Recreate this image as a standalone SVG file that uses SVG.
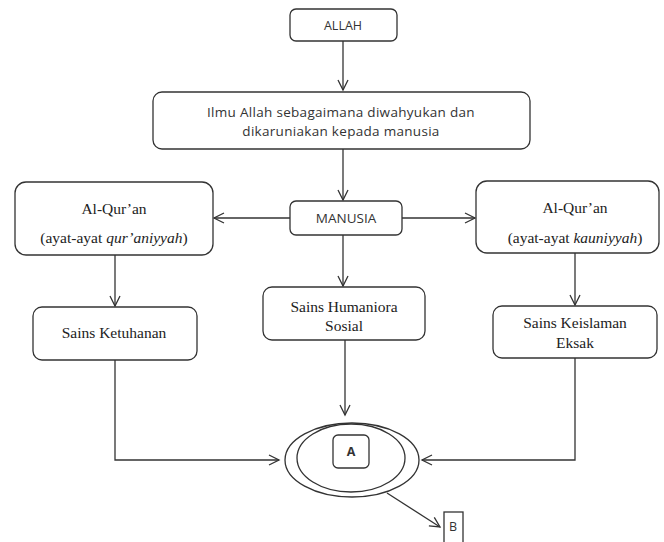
<svg xmlns="http://www.w3.org/2000/svg" width="664" height="542" viewBox="0 0 664 542">
<style>
.box{fill:#fff;stroke:#333;stroke-width:1.3}
.ln{fill:none;stroke:#333;stroke-width:1.3}
.sans{font-family:"Open Sans","Liberation Sans",sans-serif;font-size:12.5px;fill:#333;text-anchor:middle}
.big{font-size:13.5px;letter-spacing:0.3px}
.mid{font-size:13.5px}
.serif{font-family:"Liberation Serif",serif;font-size:15.5px;fill:#222;text-anchor:middle}
</style>
<defs>
<marker id="arr" markerWidth="14" markerHeight="14" refX="11" refY="6" orient="auto" markerUnits="userSpaceOnUse">
<path d="M1,1 L11,6 L1,11" fill="none" stroke="#333" stroke-width="1.3"/>
</marker>
</defs>
<g id="connectors">
<line class="ln" x1="343" y1="41" x2="343" y2="90" marker-end="url(#arr)"/>
<line class="ln" x1="343" y1="149" x2="343" y2="200" marker-end="url(#arr)"/>
<line class="ln" x1="290" y1="218" x2="214" y2="218" marker-end="url(#arr)"/>
<line class="ln" x1="402" y1="218" x2="475" y2="218" marker-end="url(#arr)"/>
<line class="ln" x1="343" y1="235" x2="343" y2="286" marker-end="url(#arr)"/>
<line class="ln" x1="115" y1="255" x2="115" y2="306" marker-end="url(#arr)"/>
<line class="ln" x1="575" y1="253" x2="575" y2="305" marker-end="url(#arr)"/>
<polyline class="ln" points="115,360 115,460 279,460" marker-end="url(#arr)"/>
<polyline class="ln" points="575,358 575,460 422,460" marker-end="url(#arr)"/>
<line class="ln" x1="345" y1="340" x2="345" y2="415" marker-end="url(#arr)"/>
<line class="ln" x1="387" y1="493" x2="440" y2="527" marker-end="url(#arr)"/>
</g>
<g id="allah">
<rect class="box" x="290" y="9" width="107" height="32" rx="6"/>
<text class="sans" x="343" y="30">ALLAH</text>
</g>
<g id="ilmu">
<rect class="box" x="153" y="92" width="377" height="57" rx="9"/>
<text class="sans big" x="341" y="117">Ilmu Allah sebagaimana diwahyukan dan</text>
<text class="sans big" x="341" y="136">dikaruniakan kepada manusia</text>
</g>
<g id="manusia">
<rect class="box" x="290" y="201" width="112" height="34" rx="6"/>
<text class="sans mid" x="346" y="223">MANUSIA</text>
</g>
<g id="alquran-left">
<rect class="box" x="15" y="182" width="198" height="73" rx="11"/>
<text class="serif" x="114" y="214">Al-Qur’an</text>
<text class="serif" x="114" y="243">(ayat-ayat <tspan font-style="italic">qur’aniyyah</tspan>)</text>
</g>
<g id="alquran-right">
<rect class="box" x="476" y="181" width="183" height="72" rx="11"/>
<text class="serif" x="575" y="213">Al-Qur’an</text>
<text class="serif" x="575" y="243">(ayat-ayat <tspan font-style="italic">kauniyyah</tspan>)</text>
</g>
<g id="ketuhanan">
<rect class="box" x="33" y="307" width="164" height="53" rx="9"/>
<text class="serif" x="114" y="338">Sains Ketuhanan</text>
</g>
<g id="humaniora">
<rect class="box" x="263" y="287" width="162" height="53" rx="9"/>
<text class="serif" x="344" y="312">Sains Humaniora</text>
<text class="serif" x="344" y="331">Sosial</text>
</g>
<g id="keislaman">
<rect class="box" x="493" y="306" width="164" height="52" rx="9"/>
<text class="serif" x="575" y="328">Sains Keislaman</text>
<text class="serif" x="575" y="348">Eksak</text>
</g>
<g id="ellipse-a">
<ellipse class="box" cx="352" cy="460" rx="67" ry="37"/>
<ellipse class="ln" cx="351" cy="458" rx="54" ry="34"/>
<rect class="box" x="333" y="435" width="36" height="33" rx="5"/>
<text class="sans" x="351" y="456" font-weight="bold">A</text>
</g>
<g id="b">
<rect class="box" x="444" y="512" width="19" height="32"/>
<text class="sans" x="453" y="531">B</text>
</g>
</svg>
